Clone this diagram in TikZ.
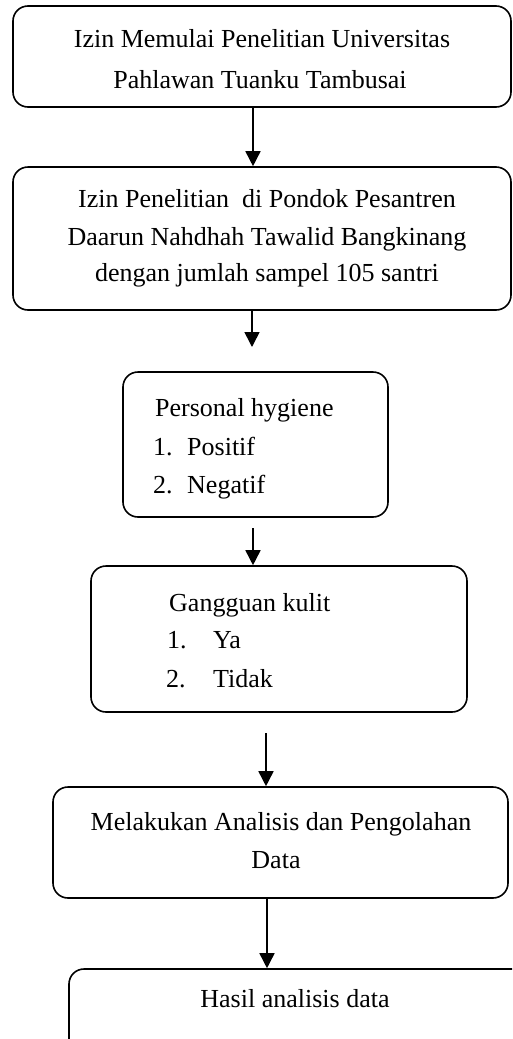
\documentclass[tikz,border=0pt]{standalone}
\usepackage{fontspec}
\setmainfont{Liberation Serif}
\usetikzlibrary{arrows.meta}
\begin{document}
\begin{tikzpicture}[x=1pt,y=-1pt,
  box/.style={draw, line width=1.6pt, rounded corners=15pt, inner sep=0pt},
  txt/.style={inner sep=0pt, font=\fontsize{26}{40}\selectfont, anchor=base},
  txtl/.style={inner sep=0pt, font=\fontsize{26}{40}\selectfont, anchor=base west},
  arr/.style={line width=1.6pt, -{Triangle[width=15pt,length=15pt]}}]
\clip (0,0) rectangle (512,1039);
\fill[white] (0,0) rectangle (512,1039);
% boxes
\node[box, minimum width=498pt, minimum height=101pt] (b1) at (262,56.5) {};
\node[box, minimum width=498pt, minimum height=143pt] (b2) at (262,238.5) {};
\node[box, minimum width=265pt, minimum height=145pt] (b3) at (255.5,444.5) {};
\node[box, minimum width=376pt, minimum height=146pt] (b4) at (279,639) {};
\node[box, minimum width=455pt, minimum height=111pt] (b5) at (280.5,842.5) {};
\node[box, minimum width=491pt, minimum height=130pt] (b6) at (314.5,1034) {};
% texts
\node[txt] (t1a) at (262,47) {Izin Memulai Penelitian Universitas};
\node[txt] (t1b) at (260,88) {Pahlawan Tuanku Tambusai};
\node[txt] (t2a) at (267,207) {Izin Penelitian \ di Pondok Pesantren};
\node[txt] (t2b) at (267,245) {Daarun Nahdhah Tawalid Bangkinang};
\node[txt] (t2c) at (267,281) {dengan jumlah sampel 105 santri};
\node[txtl] (t3a) at (155,416) {Personal hygiene};
\node[txtl] (t3b) at (153,455) {1.};
\node[txtl] (t3c) at (187,455) {Positif};
\node[txtl] (t3d) at (153,493) {2.};
\node[txtl] (t3e) at (187,493) {Negatif};
\node[txtl] (t4a) at (169,611) {Gangguan kulit};
\node[txtl] (t4b) at (167,648) {1.};
\node[txtl] (t4c) at (213,648) {Ya};
\node[txtl] (t4d) at (166,687) {2.};
\node[txtl] (t4e) at (213,687) {Tidak};
\node[txt] (t5a) at (281,830) {Melakukan Analisis dan Pengolahan};
\node[txt] (t5b) at (276,868) {Data};
\node[txt] (t6) at (295,1007) {Hasil analisis data};
% connector helpers
\coordinate (c1) at (253,0);
\coordinate (e2) at (252,347);
\coordinate (s3) at (253,528);
\coordinate (s4) at (266,733);
\coordinate (c5) at (267,0);
% arrows
\draw[arr] (b1.south -| c1) -- (b2.north -| c1);
\draw[arr] (b2.south -| e2) -- (e2);
\draw[arr] (s3) -- (b4.north -| s3);
\draw[arr] (s4) -- (b5.north -| s4);
\draw[arr] (b5.south -| c5) -- (b6.north -| c5);
\end{tikzpicture}
\end{document}
